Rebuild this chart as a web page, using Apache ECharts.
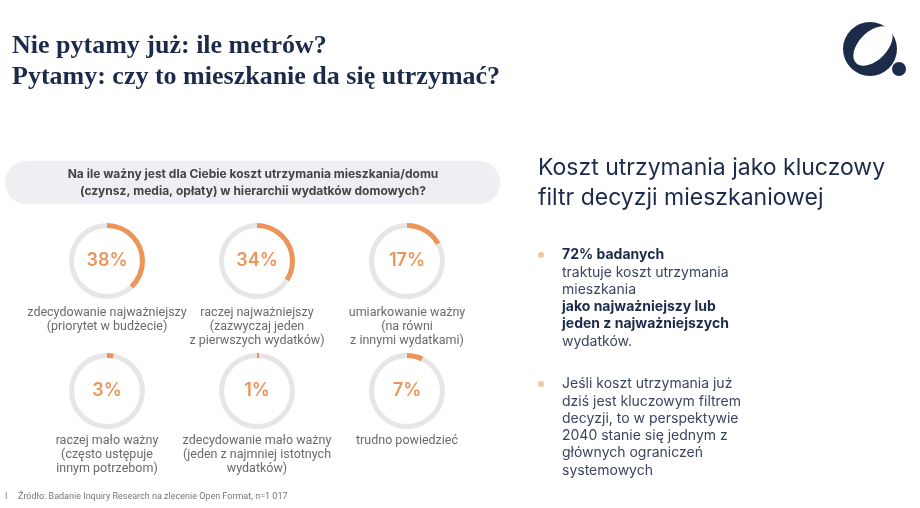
<!DOCTYPE html>
<html>
<head>
<meta charset="utf-8">
<script src="https://cdn.jsdelivr.net/npm/echarts@6/dist/echarts.min.js"></script>
<style>
  html, body { margin: 0; background: #fff; }
  #chart { width: 920px; height: 508px; }
</style>
</head>
<body>
<div id="chart"></div>
<script>
// dane z badania
const answers = [
  "zdecydowanie najważniejszy\n(priorytet w budżecie)",
  "raczej najważniejszy\n(zazwyczaj jeden\nz pierwszych wydatków)",
  "umiarkowanie ważny\n(na równi\nz innymi wydatkami)",
  "raczej mało ważny\n(często ustępuje\ninnym potrzebom)",
  "zdecydowanie mało ważny\n(jeden z najmniej istotnych\nwydatków)",
  "trudno powiedzieć"
];
const shares = [38, 34, 17, 3, 1, 7];

const titleLines = ["Nie pytamy już: ile metrów?", "Pytamy: czy to mieszkanie da się utrzymać?"];
const question = "Na ile ważny jest dla Ciebie koszt utrzymania mieszkania/domu\n(czynsz, media, opłaty) w hierarchii wydatków domowych?";
const sideTitle = "Koszt utrzymania jako kluczowy\nfiltr decyzji mieszkaniowej";
const bullet1 = [
  ["72% badanych", true],
  ["traktuje koszt utrzymania", false],
  ["mieszkania", false],
  ["jako najważniejszy lub", true],
  ["jeden z najważniejszych", true],
  ["wydatków.", false]
];
const bullet2 = [
  ["Jeśli koszt utrzymania już", false],
  ["dziś jest kluczowym filtrem", false],
  ["decyzji, to w perspektywie", false],
  ["2040 stanie się jednym z", false],
  ["głównych ograniczeń", false],
  ["systemowych", false]
];
const source = "Źródło: Badanie Inquiry Research na zlecenie Open Format, n=1 017";

const NAVY = "#1c2b4a";
const ORANGE = "#eb955b";
const RING = "#e6e6e6";
const SANS = "Inter, 'Noto Sans', sans-serif";
const LIGHT = "Roboto, 'Noto Sans', sans-serif";

const colX = [107, 257, 407];
const rowY = [261, 391];

const chart = echarts.init(document.getElementById("chart"), null, { renderer: "canvas" });

const series = shares.map((v, i) => ({
  type: "pie",
  silent: true,
  animation: false,
  center: [colX[i % 3], rowY[Math.floor(i / 3)]],
  radius: [33, 38],
  startAngle: 90,
  clockwise: true,
  labelLine: { show: false },
  data: [
    {
      value: v,
      itemStyle: { color: ORANGE },
      label: {
        show: true, position: "center", formatter: "{c}%",
        color: ORANGE, fontSize: 18, fontWeight: 600, fontFamily: SANS
      }
    },
    { value: 100 - v, itemStyle: { color: RING }, label: { show: false } }
  ]
}));

const graphic = [];

titleLines.forEach((t, i) => {
  graphic.push({
    type: "text", left: 12, top: 33 + i * 31,
    style: { text: t, fill: NAVY, font: "bold 26px 'Liberation Serif', serif" }
  });
});

// logo
graphic.push(
  { type: "circle", shape: { cx: 870, cy: 49, r: 27 }, style: { fill: NAVY } },
  { type: "ellipse", x: 873, y: 46, rotation: -Math.PI / 4,
    shape: { cx: 0, cy: 0, rx: 14, ry: 24 }, style: { fill: "#fff" } },
  { type: "circle", shape: { cx: 899, cy: 69, r: 7 }, style: { fill: NAVY } }
);

// pytanie
graphic.push(
  { type: "rect", shape: { x: 5, y: 161, width: 495, height: 43, r: 21 }, style: { fill: "#efeef2" } },
  { type: "text", x: 253, y: 183,
    style: { text: question, fill: "#444", font: "bold 12px " + SANS,
      align: "center", verticalAlign: "middle", lineHeight: 17 } }
);

// podpisy pod wykresami
answers.forEach((a, i) => {
  graphic.push({
    type: "text", x: colX[i % 3], y: (i < 3 ? 306 : 434),
    style: { text: a, fill: "#6a6a6a", font: "12.5px " + LIGHT,
      align: "center", verticalAlign: "top", lineHeight: 14 }
  });
});

// prawa kolumna
graphic.push({
  type: "text", x: 538, y: 153,
  style: { text: sideTitle, fill: NAVY, font: "23px " + SANS, lineHeight: 30 }
});

function bullets(lines, y0) {
  graphic.push({ type: "circle", shape: { cx: 541, cy: y0, r: 3 }, style: { fill: "#f2c6a2" } });
  lines.forEach(([t, bold], i) => {
    graphic.push({
      type: "text", x: 562, y: y0 + i * 17.3,
      style: { text: t, fill: bold ? NAVY : "#3b4560",
        font: (bold ? "bold " : "") + "14px " + SANS, verticalAlign: "middle" }
    });
  });
}
bullets(bullet1, 255);
bullets(bullet2, 384);

// źródło
graphic.push(
  { type: "text", x: 5, y: 497, style: { text: "I", fill: "#888", font: "9px " + LIGHT, verticalAlign: "middle" } },
  { type: "text", x: 18, y: 497, style: { text: source, fill: "#777", font: "9px " + LIGHT, verticalAlign: "middle" } }
);

chart.setOption({
  backgroundColor: "#fff",
  animation: false,
  series: series,
  graphic: graphic
});

window.addEventListener("resize", () => chart.resize());
</script>
</body>
</html>
